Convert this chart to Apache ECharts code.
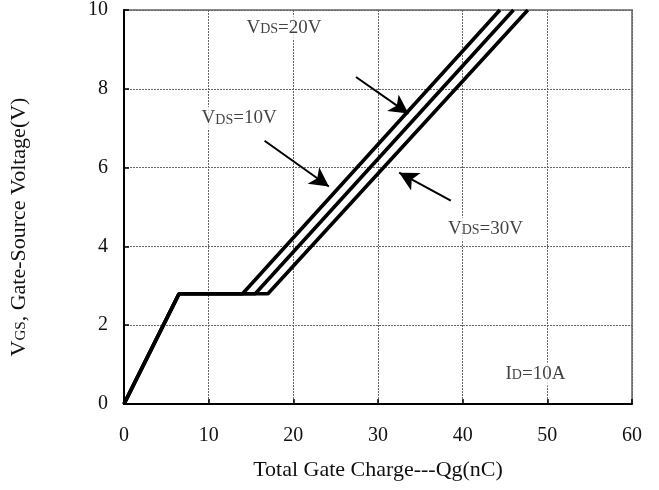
<!DOCTYPE html>
<html>
<head>
<meta charset="utf-8">
<script src="https://cdn.jsdelivr.net/npm/echarts@6/dist/echarts.min.js"></script>
<style>
  html, body { margin: 0; padding: 0; background: #fff; }
  #chart { width: 659px; height: 490px; }
</style>
</head>
<body>
<div id="chart"></div>
<script>
// Gate charge curves: [Qg (nC), VGS (V)]
const vds10 = [[0, 0], [6.5, 2.8], [14, 2.8], [44.4, 10]];
const vds20 = [[0, 0], [6.5, 2.8], [15.5, 2.8], [46, 10]];
const vds30 = [[0, 0], [6.5, 2.8], [17, 2.8], [47.7, 10]];

const xTicks = [0, 10, 20, 30, 40, 50, 60];
const yTicks = [0, 2, 4, 6, 8, 10];

// Callout labels: [x, y, main, subscript, tail]
const callouts = [
  [18.9, 9.55, 'V', 'DS', '=20V'],
  [13.6, 7.25, 'V', 'DS', '=10V'],
  [42.7, 4.44, 'V', 'DS', '=30V'],
  [48.6, 0.76, 'I', 'D', '=10A']
];

// Arrows: [fromX, fromY, toX, toY]
const arrows = [
  [16.6, 6.68, 24.2, 5.52],
  [27.4, 8.30, 33.6, 7.37],
  [38.6, 5.16, 32.5, 5.87]
];

const serif = '"Liberation Serif", "DejaVu Serif", serif';

const curveStyle = { color: '#000', width: 3.6 };

function curve(name, data) {
  return {
    name, type: 'line', data, symbol: 'none', silent: true,
    lineStyle: curveStyle, z: 3
  };
}

const chart = echarts.init(document.getElementById('chart'), null, { renderer: 'canvas' });

chart.setOption({
  animation: false,
  backgroundColor: '#fff',
  grid: {
    left: 122, right: 27, top: 9, bottom: 86,
    show: true, borderColor: '#8a8a8a', borderWidth: 2, backgroundColor: 'transparent'
  },
  xAxis: {
    type: 'value', min: xTicks[0], max: xTicks[xTicks.length - 1], interval: 10,
    name: 'Total Gate Charge---Qg(nC)', nameLocation: 'middle', nameGap: 55,
    nameTextStyle: { fontFamily: serif, fontSize: 22, color: '#111' },
    axisLine: { show: true, lineStyle: { color: '#000', width: 2 } },
    axisTick: { show: true, inside: true, length: 5, lineStyle: { color: '#000', width: 1.5 } },
    axisLabel: { fontFamily: serif, fontSize: 20, color: '#111', margin: 22 },
    splitLine: { show: true, lineStyle: { color: '#666', type: [2, 1], width: 1 } }
  },
  yAxis: {
    type: 'value', min: yTicks[0], max: yTicks[yTicks.length - 1], interval: 2,
    name: '{a|V}{b|GS}{a|, Gate-Source Voltage(V)}', nameLocation: 'middle', nameGap: 94,
    nameTextStyle: {
      padding: [0, 40, 0, 0],
      rich: {
        a: { fontFamily: serif, fontSize: 22, color: '#111' },
        b: { fontFamily: serif, fontSize: 15, color: '#111', padding: [5, 0, 0, 0] }
      }
    },
    axisLine: { show: true, lineStyle: { color: '#000', width: 2 } },
    axisTick: { show: true, inside: true, length: 5, lineStyle: { color: '#000', width: 1.5 } },
    axisLabel: { fontFamily: serif, fontSize: 20, color: '#111', margin: 16 },
    splitLine: { show: true, lineStyle: { color: '#666', type: [2, 1], width: 1 } }
  },
  series: [
    curve('VDS=10V', vds10),
    curve('VDS=20V', vds20),
    curve('VDS=30V', vds30),
    {
      type: 'scatter', data: callouts.map(c => [c[0], c[1]]),
      symbolSize: 0, silent: true, z: 4,
      label: {
        show: true, position: 'inside',
        formatter: p => {
          const c = callouts[p.dataIndex];
          return '{m|' + c[2] + '}{s|' + c[3] + '}{m|' + c[4] + '}';
        },
        backgroundColor: '#fff', padding: [2, 4],
        rich: {
          m: { fontFamily: serif, fontSize: 19, color: '#111' },
          s: { fontFamily: serif, fontSize: 14, color: '#111', padding: [3, 0, 0, 0] }
        }
      }
    },
    {
      type: 'line', data: [], silent: true, z: 5,
      markLine: {
        silent: true, animation: false,
        symbol: ['none', 'arrow'], symbolSize: [15, 19],
        label: { show: false },
        lineStyle: { color: '#000', width: 2, type: 'solid' },
        data: arrows.map(a => [{ coord: [a[0], a[1]] }, { coord: [a[2], a[3]] }])
      }
    }
  ]
});
</script>
</body>
</html>
